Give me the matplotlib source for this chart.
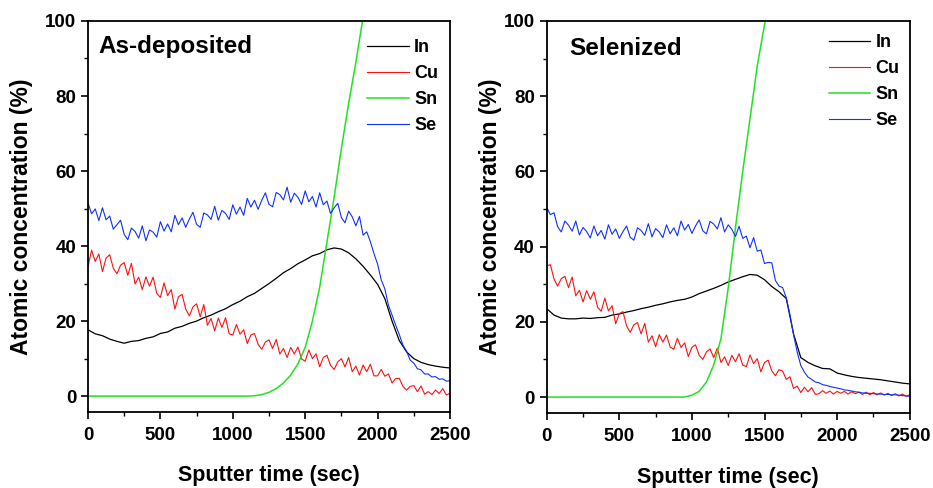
import matplotlib
matplotlib.use("Agg")
import matplotlib.pyplot as plt
from matplotlib.ticker import MultipleLocator

plt.rcParams['font.family'] = ['Liberation Sans', 'DejaVu Sans']
plt.rcParams['font.weight'] = 'bold'

# time grids (sec)
t_fine = list(range(0, 2501, 25))
t_coarse = list(range(0, 2501, 50))

# ---- As-deposited ----
dep_se = [51.5, 48.6, 49.9, 46.8, 50.2, 47.0, 48.0, 44.5, 45.7, 46.9,
          43.1, 41.7, 44.8, 43.9, 42.1, 45.4, 41.4, 44.3, 43.7, 42.4,
          46.5, 44.0, 45.9, 43.8, 48.2, 45.7, 47.5, 45.0, 47.2, 49.0,
          45.8, 45.0, 48.8, 48.3, 47.1, 50.6, 46.9, 49.5, 48.7, 47.1,
          51.0, 48.5, 50.4, 48.2, 52.7, 50.4, 52.2, 49.8, 52.2, 54.2,
          51.1, 50.5, 54.3, 53.7, 52.3, 55.7, 51.7, 54.1, 53.0, 51.1,
          54.7, 51.8, 53.2, 50.4, 54.2, 51.0, 52.0, 48.7, 50.2, 51.4,
          47.6, 46.2, 49.3, 47.8, 45.4, 47.9, 42.9, 43.8, 41.2, 38.0,
          35.2, 31.0, 28.6, 24.2, 21.6, 18.9, 16.4, 13.6, 12.0, 9.6,
          8.8, 7.3, 7.0, 5.9, 5.9, 5.1, 5.2, 4.5, 4.6, 4.0, 4.1]
dep_cu = [34.5, 38.9, 35.9, 37.9, 33.2, 36.8, 37.7, 34.1, 32.6, 34.9,
          35.6, 32.2, 35.4, 29.9, 31.7, 28.4, 31.8, 29.3, 31.7, 27.4,
          26.3, 30.2, 26.8, 28.4, 23.2, 26.5, 27.1, 23.2, 21.4, 23.8,
          24.6, 21.2, 24.4, 18.9, 20.7, 17.4, 20.8, 18.3, 20.9, 16.6,
          16.3, 19.1, 16.5, 17.7, 14.0, 16.3, 16.7, 13.8, 12.5, 14.4,
          15.0, 12.7, 15.1, 11.2, 12.7, 10.3, 13.0, 11.2, 13.1, 9.9,
          9.3, 12.3, 10.0, 11.3, 7.8, 10.3, 10.9, 8.2, 7.1, 9.1,
          10.0, 7.8, 10.3, 6.5, 8.0, 5.6, 8.3, 6.5, 8.5, 5.4,
          5.4, 7.1, 5.3, 5.9, 3.5, 4.7, 4.7, 2.6, 1.6, 2.6,
          2.8, 1.2, 2.7, 0.5, 1.2, 0.4, 1.6, 0.7, 2.0, 0.3, 0.8]
dep_in = [17.7, 16.6, 16.1, 15.2, 14.6, 14.1, 14.6, 14.8, 15.4, 15.8,
          16.7, 17.1, 18.1, 18.6, 19.4, 20.0, 20.9, 21.6, 22.5, 23.3,
          24.4, 25.3, 26.5, 27.4, 28.7, 30.0, 31.4, 32.9, 34.0, 35.3,
          36.3, 37.4, 38.0, 39.0, 39.5, 39.2, 38.2, 36.6, 34.6, 32.3,
          29.8, 26.0, 20.0, 14.8, 11.8, 10.0, 9.0, 8.4, 8.0, 7.7, 7.5]
dep_sn = [0, 0, 0, 0, 0, 0, 0, 0, 0, 0,
          0, 0, 0, 0, 0, 0, 0, 0, 0, 0,
          0, 0, 0, 0.1, 0.4, 1.0, 2.0, 3.5, 5.6, 8.6,
          13.0, 20.0, 29.0, 41.0, 53.0, 66.0, 78.0, 89.0, 101.0]

# ---- Selenized ----
sel_se = [50.4, 48.5, 49.0, 45.3, 43.9, 46.8, 45.7, 44.1, 46.8, 43.1,
          45.1, 44.0, 42.3, 45.5, 42.9, 44.3, 42.0, 45.8, 43.3, 44.7,
          42.2, 44.0, 45.5, 42.5, 41.7, 45.0, 44.3, 43.0, 46.1, 42.6,
          44.8, 43.9, 42.4, 45.8, 43.4, 45.0, 42.9, 46.8, 44.4, 45.9,
          43.5, 45.5, 47.1, 44.2, 43.4, 46.7, 46.0, 44.7, 47.7, 43.9,
          45.8, 44.6, 42.7, 45.4, 42.2, 42.8, 39.7, 42.4, 38.8, 39.1,
          35.5, 35.8, 35.7, 31.0, 29.5, 29.1, 26.4, 22.0, 16.6, 12.0,
          8.4, 6.6, 5.3, 4.7, 4.0, 3.8, 3.3, 3.1, 2.8, 2.6,
          2.4, 2.2, 1.9, 1.8, 1.6, 1.4, 1.3, 1.1, 1.0, 1.0,
          0.9, 0.8, 0.8, 0.7, 0.7, 0.6, 0.6, 0.5, 0.4, 0.3, 0.2]
sel_cu = [34.9, 35.2, 31.4, 29.5, 31.5, 32.1, 29.1, 31.9, 26.9, 28.4,
          25.3, 28.3, 26.0, 28.0, 23.9, 22.8, 26.3, 22.9, 24.3, 19.5,
          22.2, 22.7, 18.9, 17.2, 19.2, 19.8, 16.8, 19.6, 14.6, 16.3,
          13.4, 16.6, 14.6, 16.5, 13.3, 12.7, 15.6, 13.2, 14.4, 10.8,
          13.2, 13.9, 11.1, 10.0, 12.0, 12.8, 10.5, 13.0, 9.2, 10.7,
          8.4, 11.1, 9.4, 11.5, 8.5, 8.1, 11.2, 8.9, 10.2, 6.7,
          9.2, 9.8, 7.0, 5.7, 7.3, 6.9, 4.7, 5.4, 2.3, 2.9,
          1.2, 2.6, 1.4, 2.5, 0.7, 0.9, 1.7, 1.0, 1.6, 0.8,
          1.5, 1.0, 1.5, 0.8, 1.4, 0.9, 1.3, 0.7, 1.3, 0.6,
          1.2, 0.6, 1.1, 0.5, 1.0, 0.4, 0.9, 0.3, 0.8, 0.2, 0.6]
sel_in = [23.5, 21.8, 21.0, 20.8, 20.8, 21.0, 20.9, 21.1, 21.2, 21.8,
          22.1, 22.6, 23.0, 23.5, 23.9, 24.4, 24.8, 25.3, 25.7, 26.0,
          26.6, 27.5, 28.2, 28.9, 29.7, 30.6, 31.3, 32.0, 32.6, 32.4,
          31.2, 29.4, 28.0, 26.2, 16.8, 10.5, 9.2, 8.3, 7.6, 7.5,
          6.4, 5.9, 5.5, 5.2, 5.0, 4.8, 4.6, 4.3, 4.0, 3.7, 3.5]
sel_sn = [0, 0, 0, 0, 0, 0, 0, 0, 0, 0,
          0, 0, 0, 0, 0, 0, 0, 0, 0, 0,
          0.5, 1.5, 4.0, 8.5, 15.5, 29.0, 45.0, 60.0, 74.0, 88.0,
          99.0, 108.0]

labels = ['In', 'Cu', 'Sn', 'Se']
colors = ['black', '#ff1010', '#22e022', '#1030ff']

panels = [
    # title, series, axes rect, title pos, legend anchor, ylabel x
    ('As-deposited', dep_in, dep_cu, dep_sn, dep_se, [0.0943, 0.156, 0.388, 0.801],
     (0.028, 0.936), (0.771, 0.953), -0.152),
    ('Selenized', sel_in, sel_cu, sel_sn, sel_se, [0.586, 0.154, 0.389, 0.803],
     (0.061, 0.929), (0.777, 0.966), -0.124),
]

fig = plt.figure(figsize=(9.33, 4.88), dpi=100)

for title, c_in, c_cu, c_sn, c_se, pos, tpos, lpos, ylx in panels:
    ax = fig.add_axes(pos)
    ax.plot(t_coarse, c_in, color=colors[0], lw=0.9, label=labels[0])
    ax.plot(t_fine, c_cu, color=colors[1], lw=0.8, label=labels[1])
    ax.plot(t_coarse[:len(c_sn)], c_sn, color=colors[2], lw=1.1, label=labels[2])
    ax.plot(t_fine, c_se, color=colors[3], lw=0.8, label=labels[3])

    ax.set_xlim(0, 2500)
    ax.set_ylim(-4.2, 100)
    ax.xaxis.set_major_locator(MultipleLocator(500))
    ax.xaxis.set_minor_locator(MultipleLocator(250))
    ax.yaxis.set_major_locator(MultipleLocator(20))
    ax.yaxis.set_minor_locator(MultipleLocator(10))
    ax.tick_params(which='major', direction='out', length=5, width=1.2, labelsize=13.5)
    ax.tick_params(axis='x', which='major', pad=6)
    ax.tick_params(which='minor', direction='out', length=3, width=1.0)
    for s in ax.spines.values():
        s.set_linewidth(1.3)

    ax.set_xlabel('Sputter time (sec)', fontsize=15.5, fontweight='bold')
    ax.xaxis.set_label_coords(0.5, -0.137)
    ax.set_ylabel('Atomic concentration (%)', fontsize=16.5, fontweight='bold')
    ax.yaxis.set_label_coords(ylx, 0.5)
    ax.text(tpos[0], tpos[1], title, transform=ax.transAxes, fontsize=17.5,
            fontweight='bold', va='center', ha='left')
    ax.legend(loc='upper left', bbox_to_anchor=lpos, frameon=False, fontsize=13,
              handlelength=2.3, handletextpad=0.3, borderpad=0, borderaxespad=0,
              labelspacing=0.5)

fig.savefig('out.png', dpi=100)
